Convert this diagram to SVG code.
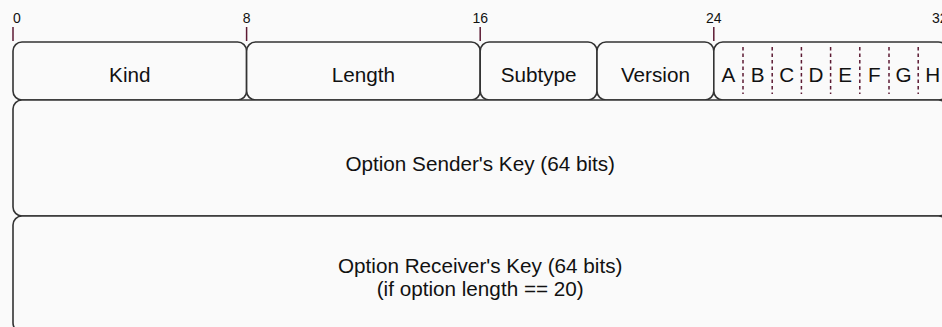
<svg xmlns="http://www.w3.org/2000/svg" width="942" height="327" viewBox="0 0 942 327">
  <style>
    .box { fill: #fafafa; stroke: #333333; stroke-width: 1.6; }
    .lbl { font-family: "Liberation Sans", Arial, sans-serif; font-size: 20.7px; fill: #111111; text-anchor: middle; }
    .tick { stroke: #5c1a33; stroke-width: 1.5; }
    .tlbl { font-family: "Liberation Sans", Arial, sans-serif; font-size: 14px; fill: #111111; text-anchor: middle; }
    .div { stroke: #5c1a33; stroke-width: 1.5; stroke-dasharray: 3.5 3; }
  </style>
  <rect x="0" y="0" width="942" height="327" fill="#fafafa"/>

  <g id="ruler">
    <line class="tick" x1="13" y1="27" x2="13" y2="41"/>
    <line class="tick" x1="246.6" y1="27" x2="246.6" y2="41"/>
    <line class="tick" x1="480.2" y1="27" x2="480.2" y2="41"/>
    <line class="tick" x1="713.8" y1="27" x2="713.8" y2="41"/>
    <text class="tlbl" x="13" y="23" style="text-anchor:start">0</text>
    <text class="tlbl" x="246.6" y="23">8</text>
    <text class="tlbl" x="480.2" y="23">16</text>
    <text class="tlbl" x="713.8" y="23">24</text>
    <text class="tlbl" x="932" y="23" style="text-anchor:start">32</text>
  </g>

  <g id="kind">
    <rect class="box" x="13" y="42" width="233.6" height="58" rx="9"/>
    <text class="lbl" x="129.8" y="82">Kind</text>
  </g>
  <g id="length">
    <rect class="box" x="246.6" y="42" width="233.6" height="58" rx="9"/>
    <text class="lbl" x="363.4" y="82">Length</text>
  </g>
  <g id="subtype">
    <rect class="box" x="480.2" y="42" width="116.8" height="58" rx="9"/>
    <text class="lbl" x="538.6" y="82">Subtype</text>
  </g>
  <g id="version">
    <rect class="box" x="597" y="42" width="116.8" height="58" rx="9"/>
    <text class="lbl" x="655.4" y="82">Version</text>
  </g>
  <g id="flags">
    <rect class="box" x="713.8" y="42" width="233.6" height="58" rx="9"/>
    <line class="div" x1="743" y1="47" x2="743" y2="94"/>
    <line class="div" x1="772.2" y1="47" x2="772.2" y2="94"/>
    <line class="div" x1="801.4" y1="47" x2="801.4" y2="94"/>
    <line class="div" x1="830.6" y1="47" x2="830.6" y2="94"/>
    <line class="div" x1="859.8" y1="47" x2="859.8" y2="94"/>
    <line class="div" x1="889" y1="47" x2="889" y2="94"/>
    <line class="div" x1="918.2" y1="47" x2="918.2" y2="94"/>
    <text class="lbl" x="728.4" y="82">A</text>
    <text class="lbl" x="757.6" y="82">B</text>
    <text class="lbl" x="786.8" y="82">C</text>
    <text class="lbl" x="816" y="82">D</text>
    <text class="lbl" x="845.2" y="82">E</text>
    <text class="lbl" x="874.4" y="82">F</text>
    <text class="lbl" x="903.6" y="82">G</text>
    <text class="lbl" x="932.8" y="82">H</text>
  </g>

  <g id="sender-key">
    <rect class="box" x="13" y="100" width="934.4" height="116" rx="9"/>
    <text class="lbl" x="480.2" y="171">Option Sender's Key (64 bits)</text>
  </g>
  <g id="receiver-key">
    <rect class="box" x="13" y="216" width="934.4" height="116" rx="9"/>
    <text class="lbl" x="480.2" y="273">Option Receiver's Key (64 bits)</text>
    <text class="lbl" x="480.2" y="296">(if option length == 20)</text>
  </g>

  <g id="connectors"/>
</svg>
